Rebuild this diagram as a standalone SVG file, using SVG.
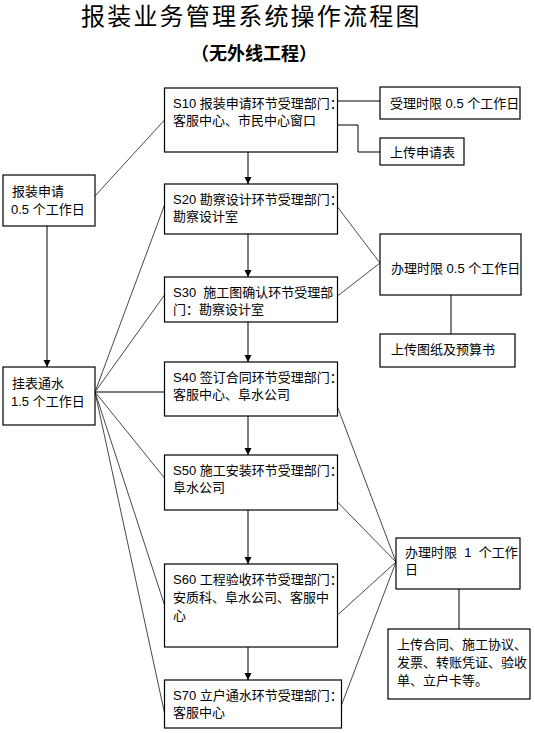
<svg xmlns="http://www.w3.org/2000/svg" width="535" height="733" viewBox="0 0 535 733">
<defs>
<marker id="arr" markerWidth="8" markerHeight="9" refX="7" refY="4" orient="auto" markerUnits="userSpaceOnUse">
<path d="M0,0.5 L7,4 L0,7.5 Z" fill="#000"/>
</marker>
<style>
text{font-family:"Liberation Sans","Noto Sans CJK SC",sans-serif;fill:#000}
.t{font-size:13px}
.box{fill:#fff;stroke:#000;stroke-width:1.2}
.ln{fill:none;stroke:#000;stroke-width:1}
.gl{fill:none;stroke:#333;stroke-width:0.9}
</style>
</defs>
<rect width="535" height="733" fill="#fff"/>
<text x="81" y="25" font-size="24" letter-spacing="2.2" style="font-family:'Noto Sans CJK SC',sans-serif">报装业务管理系统操作流程图</text>
<text x="254" y="60" font-size="18" font-weight="bold" text-anchor="middle" style="font-family:'Noto Sans CJK SC',sans-serif">（无外线工程）</text>

<g id="connectors">
<line class="ln" x1="248" y1="152" x2="248" y2="184" marker-end="url(#arr)"/>
<line class="ln" x1="248" y1="234" x2="248" y2="277" marker-end="url(#arr)"/>
<line class="ln" x1="248" y1="322" x2="248" y2="362" marker-end="url(#arr)"/>
<line class="ln" x1="248" y1="416" x2="248" y2="455" marker-end="url(#arr)"/>
<line class="ln" x1="248" y1="510" x2="248" y2="564" marker-end="url(#arr)"/>
<line class="ln" x1="248" y1="647" x2="248" y2="680" marker-end="url(#arr)"/>
<line class="ln" x1="47" y1="226" x2="47" y2="367" marker-end="url(#arr)"/>
<line class="ln" x1="337.5" y1="101" x2="380" y2="101"/>
<polyline class="ln" points="337.5,125 358,125 358,152 380,152"/>
<line class="gl" x1="164.5" y1="120" x2="95" y2="196"/>
<line class="gl" x1="337.5" y1="207" x2="380" y2="263"/>
<line class="gl" x1="337.5" y1="296" x2="380" y2="263"/>
<line class="ln" x1="451" y1="295" x2="451" y2="334"/>
<line class="ln" x1="95" y1="392" x2="164.5" y2="392"/>
<line class="gl" x1="95" y1="392" x2="164.5" y2="205"/>
<line class="gl" x1="95" y1="392" x2="164.5" y2="295"/>
<line class="gl" x1="95" y1="392" x2="164.5" y2="478"/>
<line class="gl" x1="95" y1="392" x2="164.5" y2="605"/>
<line class="gl" x1="95" y1="392" x2="164.5" y2="713"/>
<line class="gl" x1="337.5" y1="407" x2="396" y2="562"/>
<line class="gl" x1="337.5" y1="502" x2="396" y2="562"/>
<line class="gl" x1="337.5" y1="615" x2="396" y2="562"/>
<line class="gl" x1="341.5" y1="705" x2="396" y2="562"/>
<line class="ln" x1="459" y1="589" x2="459" y2="629"/>
</g>

<g id="s10"><rect class="box" x="164.5" y="88" width="173" height="64"/>
<text class="t" x="173" y="108">S10 报装申请环节受理部门：</text>
<text class="t" x="173" y="125">客服中心、市民中心窗口</text></g>

<g id="limit10"><rect class="box" x="380" y="87" width="140" height="32"/>
<text class="t" x="390" y="108">受理时限 0.5 个工作日</text></g>

<g id="upload10"><rect class="box" x="380" y="138" width="84" height="27"/>
<text class="t" x="390" y="157">上传申请表</text></g>

<g id="apply"><rect class="box" x="3" y="175" width="92" height="51"/>
<text class="t" x="12" y="196">报装申请</text>
<text class="t" x="11" y="214">0.5 个工作日</text></g>

<g id="s20"><rect class="box" x="164.5" y="184" width="173" height="50"/>
<text class="t" x="173" y="204">S20 勘察设计环节受理部门：</text>
<text class="t" x="173" y="221">勘察设计室</text></g>

<g id="s30"><rect class="box" x="164.5" y="277" width="173" height="45"/>
<text class="t" x="173" y="297">S30&#160; 施工图确认环节受理部</text>
<text class="t" x="173" y="314">门：勘察设计室</text></g>

<g id="limit2030"><rect class="box" x="380" y="234" width="141" height="61"/>
<text class="t" x="391" y="273">办理时限 0.5 个工作日</text></g>

<g id="upload2030"><rect class="box" x="380" y="334" width="135" height="33"/>
<text class="t" x="391" y="354">上传图纸及预算书</text></g>

<g id="install"><rect class="box" x="3" y="367" width="92" height="58"/>
<text class="t" x="12" y="388">挂表通水</text>
<text class="t" x="11" y="406">1.5 个工作日</text></g>

<g id="s40"><rect class="box" x="164.5" y="362" width="173" height="54"/>
<text class="t" x="173" y="382">S40 签订合同环节受理部门：</text>
<text class="t" x="173" y="399">客服中心、阜水公司</text></g>

<g id="s50"><rect class="box" x="164.5" y="455" width="173" height="55"/>
<text class="t" x="173" y="475">S50 施工安装环节受理部门：</text>
<text class="t" x="173" y="492">阜水公司</text></g>

<g id="s60"><rect class="box" x="164.5" y="564" width="173" height="83"/>
<text class="t" x="173" y="584">S60 工程验收环节受理部门：</text>
<text class="t" x="173" y="602">安质科、阜水公司、客服中</text>
<text class="t" x="173" y="620">心</text></g>

<g id="s70"><rect class="box" x="164.5" y="680" width="177" height="48"/>
<text class="t" x="173" y="700">S70 立户通水环节受理部门：</text>
<text class="t" x="173" y="717">客服中心</text></g>

<g id="limit4070"><rect class="box" x="396" y="538" width="124" height="51"/>
<text class="t" x="405" y="557">办理时限&#160; 1&#160; 个工作</text>
<text class="t" x="405" y="574">日</text></g>

<g id="upload4070"><rect class="box" x="388" y="629" width="142" height="70"/>
<text class="t" x="397" y="649">上传合同、施工协议、</text>
<text class="t" x="397" y="667">发票、转账凭证、验收</text>
<text class="t" x="397" y="685">单、立户卡等。</text></g>
</svg>
